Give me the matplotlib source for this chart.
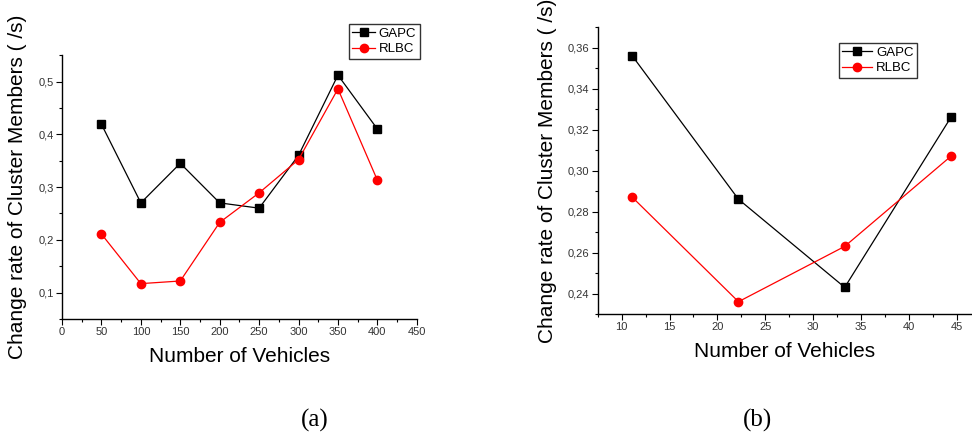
import matplotlib.pyplot as plt
from matplotlib.ticker import MultipleLocator, FuncFormatter

plt.rcParams['font.family'] = ['Liberation Sans', 'DejaVu Sans']

# (a) simulation with 50..400 vehicles
veh_a = [50, 100, 150, 200, 250, 300, 350, 400]
gapc_a = [0.419, 0.270, 0.345, 0.270, 0.260, 0.360, 0.512, 0.410]
rlbc_a = [0.211, 0.117, 0.122, 0.233, 0.289, 0.352, 0.486, 0.313]

# (b) highway scenario
veh_b = [11.1, 22.2, 33.3, 44.4]
gapc_b = [0.356, 0.286, 0.243, 0.326]
rlbc_b = [0.287, 0.236, 0.263, 0.307]

ylabel = 'Change rate of Cluster Members ( /s)'
xlabel = 'Number of Vehicles'


def comma_fmt(ndec):
    return FuncFormatter(lambda v, p: ('%.*f' % (ndec, v)).replace('.', ','))


def style_axes(ax):
    ax.spines['top'].set_visible(False)
    ax.spines['right'].set_visible(False)
    for s in ('left', 'bottom'):
        ax.spines[s].set_linewidth(1.0)
    ax.tick_params(which='major', direction='out', length=4, width=0.8,
                   labelsize=8, labelcolor='#333333', pad=2)
    ax.tick_params(which='minor', direction='out', length=2, width=0.8)


def draw(ax, x, g, r, anchor, hlen):
    ax.plot(x, g, color='black', lw=0.9, marker='s', ms=5.5, label='GAPC')
    ax.plot(x, r, color='red', lw=0.9, marker='o', ms=6, label='RLBC')
    leg = ax.legend(loc='upper right', bbox_to_anchor=anchor,
                    fancybox=False, edgecolor='black', fontsize=9.5,
                    handlelength=hlen, handletextpad=0.3, borderpad=0.25,
                    labelspacing=0.25, borderaxespad=0)
    leg.get_frame().set_linewidth(1.0)


fig = plt.figure(figsize=(9.72, 4.34), dpi=100)

ax1 = fig.add_axes([0.0638, 0.265, 0.365, 0.608])
draw(ax1, veh_a, gapc_a, rlbc_a, (1.008, 1.117), 1.7)
ax1.set_xlim(0, 450)
ax1.set_ylim(0.05, 0.55)
ax1.xaxis.set_major_locator(MultipleLocator(50))
ax1.xaxis.set_minor_locator(MultipleLocator(25))
ax1.yaxis.set_major_locator(MultipleLocator(0.1))
ax1.yaxis.set_minor_locator(MultipleLocator(0.05))
ax1.yaxis.set_major_formatter(comma_fmt(1))
style_axes(ax1)
ax1.set_xlabel(xlabel, fontsize=15, labelpad=7)
ax1.set_ylabel(ylabel, fontsize=15, labelpad=8)

ax2 = fig.add_axes([0.615, 0.2765, 0.385, 0.661])
draw(ax2, veh_b, gapc_b, rlbc_b, (0.853, 0.944), 2.3)
ax2.set_xlim(7.5, 46.6)
ax2.set_ylim(0.23, 0.37)
ax2.xaxis.set_major_locator(MultipleLocator(5))
ax2.xaxis.set_minor_locator(MultipleLocator(2.5))
ax2.yaxis.set_major_locator(MultipleLocator(0.02))
ax2.yaxis.set_minor_locator(MultipleLocator(0.01))
ax2.yaxis.set_major_formatter(comma_fmt(2))
style_axes(ax2)
ax2.set_xlabel(xlabel, fontsize=15, labelpad=7)
ax2.set_ylabel(ylabel, fontsize=15, labelpad=8)

fig.text(0.324, 0.032, '(a)', family='Liberation Serif', fontsize=18,
         ha='center', va='center')
fig.text(0.779, 0.032, '(b)', family='Liberation Serif', fontsize=18,
         ha='center', va='center')

fig.savefig('out.png', dpi=100)
